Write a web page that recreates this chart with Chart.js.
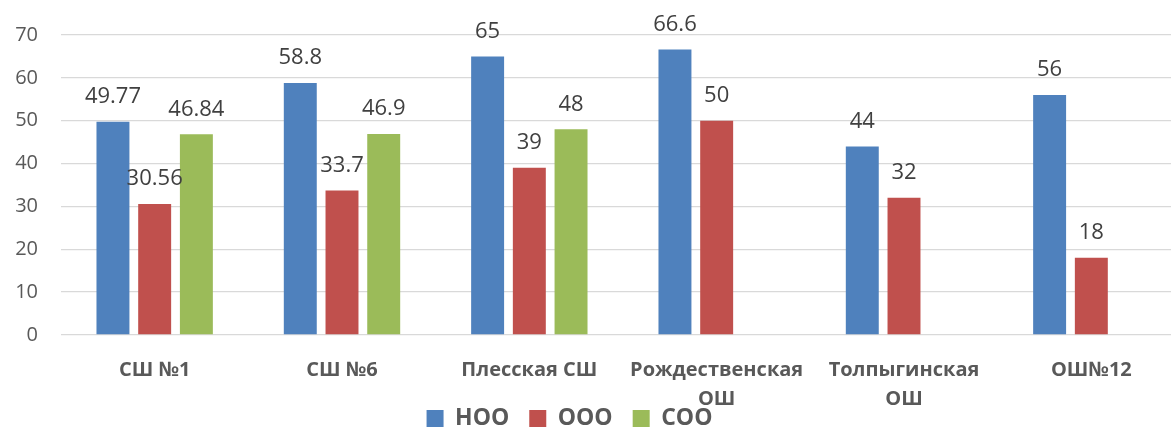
<!DOCTYPE html>
<html>
<head>
<meta charset="utf-8">
<script src="https://cdn.jsdelivr.net/npm/chart.js@4"></script>
<style>
  html, body { margin: 0; padding: 0; background: #fff; overflow: hidden; }
  #wrap { width: 1185px; height: 463px; position: relative; }
</style>
</head>
<body>
<div id="wrap"><canvas id="schoolChart"></canvas></div>
<script>
// категории и значения
const schools = ["СШ №1", "СШ №6", "Плесская СШ", ["Рождественская", "ОШ"], ["Толпыгинская", "ОШ"], "ОШ№12"];
const nooValues = [49.77, 58.8, 65, 66.6, 44, 56];
const oooValues = [30.56, 33.7, 39, 50, 32, 18];
const sooValues = [46.84, 46.9, 48, null, null, null];
const yTicks = [0, 10, 20, 30, 40, 50, 60, 70];

const FONT = "'Open Sans', 'Noto Sans', sans-serif";

// подписи над столбцами
const barLabels = {
    id: 'barLabels',
    afterDatasetsDraw(chart) {
        const ctx = chart.ctx;
        ctx.save();
        ctx.font = "22px " + FONT;
        ctx.fillStyle = "#404040";
        ctx.textAlign = "center";
        ctx.textBaseline = "middle";
        chart.data.datasets.forEach((ds, i) => {
            const meta = chart.getDatasetMeta(i);
            meta.data.forEach((bar, j) => {
                const v = ds.data[j];
                if (v === null || v === undefined) return;
                ctx.fillText(String(v), bar.x, bar.y - 25);
            });
        });
        ctx.restore();
    }
};

// легенда: чуть левее и выше, как в оригинале
const legendShift = {
    id: 'legendShift',
    afterLayout(chart) {
        const lg = chart.legend;
        if (lg) {
            lg.right -= 46;
            lg.top -= 23;
            lg.bottom -= 23;
        }
    }
};

const ctx = document.getElementById("schoolChart").getContext("2d");
new Chart(ctx, {
    type: "bar",
    data: {
        labels: schools,
        datasets: [
            { label: "НОО", data: nooValues, backgroundColor: "#4f81bd" },
            { label: "ООО", data: oooValues, backgroundColor: "#c0504d" },
            { label: "СОО", data: sooValues, backgroundColor: "#9bbb59" }
        ]
    },
    options: {
        responsive: true,
        maintainAspectRatio: false,
        animation: false,
        datasets: {
            bar: { categoryPercentage: 0.668, barPercentage: 0.79 }
        },
        layout: { padding: { top: 29, left: 0, right: 0, bottom: 0 } },
        plugins: {
            tooltip: { enabled: false },
            legend: {
                position: "bottom",
                labels: {
                    boxWidth: 17,
                    boxHeight: 17,
                    padding: 20,
                    color: "#595959",
                    font: { family: FONT, size: 23, weight: "bold" }
                }
            }
        },
        scales: {
            x: {
                grid: { display: false, drawTicks: false },
                border: { display: false },
                ticks: {
                    color: "#595959",
                    padding: 21,
                    maxRotation: 0,
                    autoSkip: false,
                    font: { family: FONT, size: 20, weight: "bold", lineHeight: 1.45 }
                },
                afterFit(scale) { scale.height = 75; }
            },
            y: {
                min: 0,
                max: 70,
                afterBuildTicks(scale) {
                    scale.ticks = yTicks.map(v => ({ value: v }));
                },
                grid: { color: "#d9d9d9", lineWidth: 1.3, drawTicks: false },
                border: { display: false },
                ticks: {
                    color: "#595959",
                    padding: 23,
                    font: { family: FONT, size: 20 }
                },
                afterFit(scale) { scale.width = 61; }
            }
        }
    },
    plugins: [barLabels, legendShift]
});
</script>
</body>
</html>
